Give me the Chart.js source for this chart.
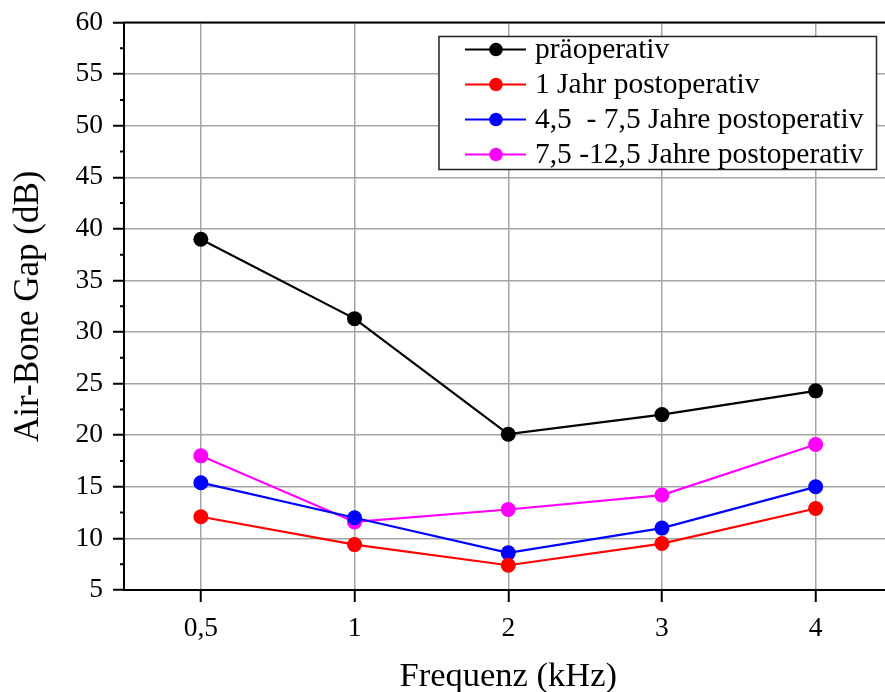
<!DOCTYPE html>
<html>
<head>
<meta charset="utf-8">
<title>Air-Bone Gap</title>
<script src="https://cdn.jsdelivr.net/npm/chart.js@4.4.1/dist/chart.umd.min.js"></script>
<style>
    html, body { margin: 0; padding: 0; background: #fff; overflow: hidden; }
    #wrap { width: 885px; height: 692px; overflow: hidden; }
    canvas { display: block; }
</style>
</head>
<body>
<div id="wrap">
    <canvas id="abgChart" width="900" height="692"></canvas>
</div>
<script>
// Frequencies (kHz) and mean air-bone gap per follow-up group (dB)
var frequencies = ['0,5', '1', '2', '3', '4'];
var praeoperativ = [39.0, 31.3, 20.1, 22.0, 24.3];
var einJahrPost = [12.1, 9.4, 7.4, 9.5, 12.9];
var jahre45bis75 = [15.4, 12.0, 8.6, 11.0, 15.0];
var jahre75bis125 = [18.0, 11.6, 12.8, 14.2, 19.1];

var seriesNames = [
    'präoperativ',
    '1 Jahr postoperativ',
    '4,5  - 7,5 Jahre postoperativ',
    '7,5 -12,5 Jahre postoperativ'
];
var seriesColors = ['#000000', '#ff0000', '#0000ff', '#ff00ff'];

var serif = "'Liberation Serif', 'Times New Roman', serif";
var gridGray = 'rgb(165,165,165)';

function makeDataset(i, values) {
    return {
        label: seriesNames[i],
        data: values,
        borderColor: seriesColors[i],
        backgroundColor: seriesColors[i],
        borderWidth: 2.2,
        pointRadius: 7.5,
        pointHoverRadius: 7.5,
        pointBorderWidth: 0,
        tension: 0
    };
}

// minor ticks on the y axis, top frame line and the boxed legend
var decorations = {
    id: 'decorations',
    afterDraw: function(chart) {
        var ctx = chart.ctx;
        var area = chart.chartArea;
        var y = chart.scales.y;
        ctx.save();
        ctx.strokeStyle = '#000';
        ctx.lineWidth = 2;
        ctx.beginPath();
        for (var v = y.min + 2.5; v < y.max; v += 5) {
            var py = y.getPixelForValue(v);
            ctx.moveTo(area.left - 4, py);
            ctx.lineTo(area.left, py);
        }
        ctx.moveTo(area.left - 1, area.top);
        ctx.lineTo(area.right, area.top);
        ctx.stroke();

        // legend
        ctx.font = '29.5px ' + serif;
        var textW = 0;
        chart.data.datasets.forEach(function(ds) {
            textW = Math.max(textW, ctx.measureText(ds.label).width);
        });
        var boxW = 109 + textW;
        var rowH = 35;
        var boxH = 13 + rowH * (chart.data.datasets.length - 1) + 15;
        var boxX = area.right - 16 - boxW;
        var boxY = area.top + 14;
        ctx.fillStyle = '#fff';
        ctx.fillRect(boxX, boxY, boxW, boxH);
        ctx.lineWidth = 1.5;
        ctx.strokeStyle = '#222';
        ctx.strokeRect(boxX, boxY, boxW, boxH);

        ctx.textBaseline = 'middle';
        ctx.textAlign = 'left';
        chart.data.datasets.forEach(function(ds, i) {
            var cy = boxY + 13 + i * rowH;
            ctx.strokeStyle = ds.borderColor;
            ctx.lineWidth = 2.2;
            ctx.beginPath();
            ctx.moveTo(boxX + 26, cy);
            ctx.lineTo(boxX + 87, cy);
            ctx.stroke();
            ctx.fillStyle = ds.backgroundColor;
            ctx.beginPath();
            ctx.arc(boxX + 57, cy, 6.8, 0, Math.PI * 2);
            ctx.fill();
            ctx.fillStyle = '#000';
            ctx.fillText(ds.label, boxX + 96, cy + 1);
        });
        ctx.restore();
    }
};

var ctx = document.getElementById('abgChart');
new Chart(ctx, {
    type: 'line',
    data: {
        labels: frequencies,
        datasets: [
            makeDataset(0, praeoperativ),
            makeDataset(1, einJahrPost),
            makeDataset(2, jahre45bis75),
            makeDataset(3, jahre75bis125)
        ]
    },
    options: {
        responsive: false,
        devicePixelRatio: 1,
        animation: false,
        events: [],
        layout: { padding: { top: 22.5, right: 6, left: 0, bottom: 0 } },
        plugins: {
            legend: { display: false },
            tooltip: { enabled: false }
        },
        scales: {
            x: {
                type: 'category',
                offset: true,
                grid: {
                    offset: false,
                    color: gridGray,
                    lineWidth: 1.5,
                    tickColor: '#000',
                    tickWidth: 2,
                    tickLength: 12
                },
                border: { color: '#000', width: 2 },
                ticks: {
                    color: '#000',
                    font: { family: serif, size: 27.5 },
                    padding: 10,
                    maxRotation: 0
                },
                title: {
                    display: true,
                    text: 'Frequenz (kHz)',
                    color: '#000',
                    font: { family: serif, size: 34.5, lineHeight: 0.9 },
                    padding: { top: 0, bottom: 0 }
                },
                afterFit: function(scale) { scale.height = 102; }
            },
            y: {
                min: 5,
                max: 60,
                grid: {
                    color: gridGray,
                    lineWidth: 1.5,
                    tickColor: '#000',
                    tickWidth: 2,
                    tickLength: 11
                },
                border: { color: '#000', width: 2 },
                ticks: {
                    stepSize: 5,
                    color: '#000',
                    font: { family: serif, size: 27.5 },
                    padding: 10
                },
                title: {
                    display: true,
                    text: 'Air-Bone Gap (dB)',
                    color: '#000',
                    font: { family: serif, size: 35, lineHeight: 1.1 },
                    padding: { top: 10, bottom: 0 }
                },
                afterFit: function(scale) {
                    scale.width = 124;
                    // let the layout padding decide the top edge, not the "60" label
                    scale.paddingTop = 0;
                    scale.paddingBottom = 0;
                }
            }
        }
    },
    plugins: [decorations]
});
</script>
</body>
</html>
